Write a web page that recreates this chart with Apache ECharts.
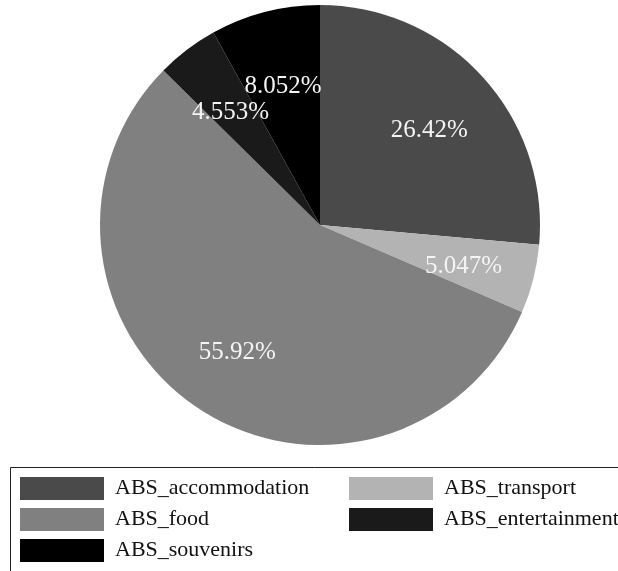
<!DOCTYPE html>
<html>
<head>
<meta charset="utf-8">
<script src="https://cdn.jsdelivr.net/npm/echarts@6/dist/echarts.min.js"></script>
<style>
  html, body { margin: 0; padding: 0; background: #ffffff; }
  #chart { width: 618px; height: 571px; }
</style>
</head>
<body>
<div id="chart"></div>
<script>
// Expenditure shares (percent)
const categories = ['ABS_accommodation', 'ABS_transport', 'ABS_food', 'ABS_entertainment', 'ABS_souvenirs'];
const shares = [26.42, 5.047, 55.92, 4.553, 8.052];
const colors = ['#4a4a4a', '#b3b3b3', '#808080', '#1a1a1a', '#000000'];

const leftColumn = ['ABS_accommodation', 'ABS_food', 'ABS_souvenirs'];
const rightColumn = ['ABS_transport', 'ABS_entertainment'];

const FONT = '"Liberation Serif", "DejaVu Serif", serif';

const pieData = categories.map((name, i) => ({
  name: name,
  value: shares[i],
  itemStyle: { color: colors[i] }
}));

const chart = echarts.init(document.getElementById('chart'), null, { renderer: 'canvas' });

const legendCommon = {
  orient: 'vertical',
  top: 477,
  itemWidth: 84,
  itemHeight: 23,
  itemGap: 8,
  selectedMode: false,
  icon: 'rect',
  textStyle: { fontFamily: FONT, fontSize: 22, color: '#111111', padding: [2, 0, 0, 6] },
  padding: 0
};

chart.setOption({
  animation: false,
  backgroundColor: '#ffffff',
  color: colors,
  graphic: [{
    type: 'rect',
    shape: { x: 10.5, y: 467.5, width: 620, height: 120 },
    style: { fill: 'none', stroke: '#222222', lineWidth: 1 },
    silent: true
  }],
  legend: [
    Object.assign({}, legendCommon, { left: 20, data: leftColumn }),
    Object.assign({}, legendCommon, { left: 349, data: rightColumn })
  ],
  series: [
    {
      type: 'pie',
      center: [320, 225],
      radius: 220,
      startAngle: 90,
      clockwise: true,
      silent: true,
      label: { show: false },
      labelLine: { show: false },
      data: pieData
    },
    {
      // transparent ring that only carries the percentage labels
      type: 'pie',
      center: [320, 225],
      radius: [70, 220],
      startAngle: 90,
      clockwise: true,
      silent: true,
      itemStyle: { color: 'rgba(0,0,0,0)' },
      label: {
        show: true,
        position: 'inside',
        formatter: p => p.value + '%',
        color: '#f4f4f4',
        fontFamily: FONT,
        fontSize: 25,
        offset: [0, 5]
      },
      labelLine: { show: false },
      data: categories.map((name, i) => ({ name: name, value: shares[i] }))
    }
  ]
});
</script>
</body>
</html>
